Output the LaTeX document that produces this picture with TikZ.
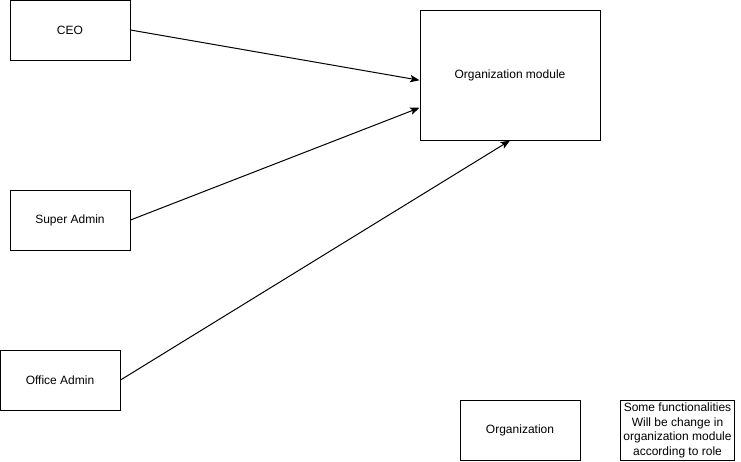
\documentclass[tikz,border=0pt]{standalone}
\usepackage{fontspec}
\setmainfont{Liberation Sans}
\usetikzlibrary{arrows.meta,calc}
\begin{document}
\begin{tikzpicture}[x=0.75pt,y=-0.75pt,
  box/.style={draw,line width=0.75pt,inner sep=0pt,align=center,font=\fontsize{9pt}{10.5pt}\selectfont},
  conn/.style={line width=0.75pt,-{Stealth[length=7pt,width=5.5pt,inset=1.5pt]}}]
\useasboundingbox (0,0) rectangle (741,461);
\node[box,minimum width=90pt,minimum height=45pt] (ceo) at (70,30) {CEO};
\node[box,minimum width=90pt,minimum height=45pt] (sa) at (70,220) {Super Admin};
\node[box,minimum width=90pt,minimum height=45pt] (oa) at (60,380) {Office Admin};
\node[box,minimum width=135pt,minimum height=97.5pt] (om) at (510,75) {};
\node[font=\fontsize{9pt}{10.5pt}\selectfont] at (510,75) {Organization module};
\node[box,minimum width=90pt,minimum height=45pt] (org) at (520,430) {Organization};
\node[box,minimum width=86pt,minimum height=45pt,font=\fontsize{9pt}{11pt}\selectfont] (note) at (677.5,430.5) {Some functionalities\\Will be change in\\organization module\\according to role};
\coordinate (t1) at ($(om.north west)!0.54!(om.south west)$);
\coordinate (t2) at ($(om.north west)!0.75!(om.south west)$);
\draw[conn] (ceo.east) -- (t1);
\draw[conn] (sa.east) -- (t2);
\draw[conn] (oa.east) -- (om.south);
\end{tikzpicture}
\end{document}
